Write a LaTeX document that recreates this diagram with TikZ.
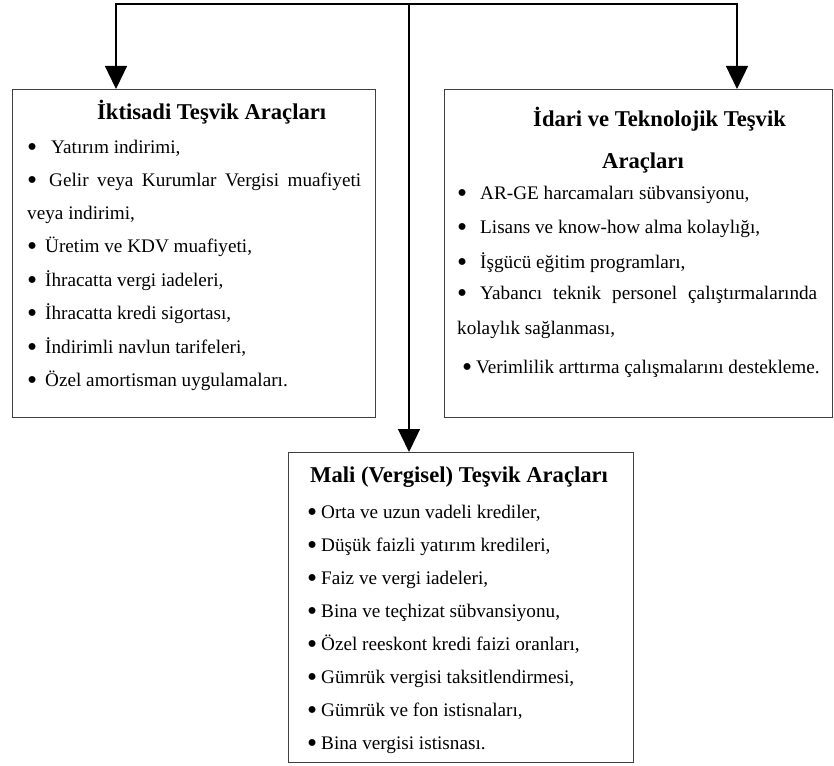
\documentclass[tikz,border=0pt]{standalone}
\usepackage{graphicx}
\usepackage{fontspec}
\setmainfont{Liberation Serif}
\usetikzlibrary{arrows.meta}
\tikzset{
  box/.style={draw=black!75, line width=1.4pt, anchor=north west, inner sep=0pt},
  conn/.style={draw=black, line width=1.3pt},
  arr/.style={-{Triangle[width=22pt,length=23pt]}},
  txt/.style={anchor=base west, inner sep=0pt, font=\fontsize{19.2}{22}\selectfont},
  ttl/.style={anchor=base west, inner sep=0pt, font=\fontsize{22.6}{26}\selectfont\bfseries},
}
\newcommand{\bigbul}{\raisebox{-0.17em}{\scalebox{1.5}{•}}}
\newcommand{\itm}[2]{\makebox[#1pt][l]{\bigbul}#2}
\begin{document}
\begin{tikzpicture}[x=1pt,y=-1pt]
\useasboundingbox (0,0) rectangle (834,765);
% boxes
\node[box, minimum width=363pt, minimum height=328pt] (lbox) at (12,89) {};
\node[box, minimum width=388pt, minimum height=328pt] (rbox) at (444,89) {};
\node[box, minimum width=345pt, minimum height=310pt] (bbox) at (288,452) {};
% connectors
\coordinate (top) at (409,4);
\coordinate (lt) at (116,89);
\coordinate (rt) at (737,89);
\draw[conn,arr] (top) -| (lt);
\draw[conn,arr] (top) -| (rt);
\draw[conn,arr] (top) -- (top |- bbox.north);
% left box text
\node[ttl] (lt0) at (97,120) {İktisadi Teşvik Araçları};
\node[txt] (l1) at (27,153) {\itm{24}{Yatırım indirimi,}};
\node[txt] (l2) at (27,186) {\makebox[334pt][s]{\itm{22}{Gelir veya Kurumlar Vergisi muafiyeti}}};
\node[txt] (l3) at (27,219) {veya indirimi,};
\node[txt] (l4) at (27,252) {\itm{18}{Üretim ve KDV muafiyeti,}};
\node[txt] (l5) at (27,286) {\itm{18}{İhracatta vergi iadeleri,}};
\node[txt] (l6) at (27,319) {\itm{18}{İhracatta kredi sigortası,}};
\node[txt] (l7) at (27,353) {\itm{18}{İndirimli navlun tarifeleri,}};
\node[txt] (l8) at (27,386) {\itm{18}{Özel amortisman uygulamaları.}};
% right box text
\node[ttl] (rt1) at (533,126) {İdari ve Teknolojik Teşvik};
\node[ttl] (rt2) at (602,168) {Araçları};
\node[txt] (r1) at (457,199) {\itm{23}{AR-GE harcamaları sübvansiyonu,}};
\node[txt] (r2) at (457,233) {\itm{23}{Lisans ve know-how alma kolaylığı,}};
\node[txt] (r3) at (457,268) {\itm{23}{İşgücü eğitim programları,}};
\node[txt] (r4) at (457,299) {\makebox[360pt][s]{\itm{23}{Yabancı teknik personel çalıştırmalarında}}};
\node[txt] (r5) at (457,334) {kolaylık sağlanması,};
\node[txt] (r6) at (462,373) {\itm{14}{Verimlilik arttırma çalışmalarını destekleme.}};
% bottom box text
\node[ttl] (bt) at (310,482) {Mali (Vergisel) Teşvik Araçları};
\node[txt] (b1) at (307,518) {\itm{14}{Orta ve uzun vadeli krediler,}};
\node[txt] (b2) at (307,551) {\itm{14}{Düşük faizli yatırım kredileri,}};
\node[txt] (b3) at (307,584) {\itm{14}{Faiz ve vergi iadeleri,}};
\node[txt] (b4) at (307,617) {\itm{14}{Bina ve teçhizat sübvansiyonu,}};
\node[txt] (b5) at (307,650) {\itm{14}{Özel reeskont kredi faizi oranları,}};
\node[txt] (b6) at (307,683) {\itm{14}{Gümrük vergisi taksitlendirmesi,}};
\node[txt] (b7) at (307,716) {\itm{14}{Gümrük ve fon istisnaları,}};
\node[txt] (b8) at (307,749) {\itm{14}{Bina vergisi istisnası.}};
\end{tikzpicture}
\end{document}
